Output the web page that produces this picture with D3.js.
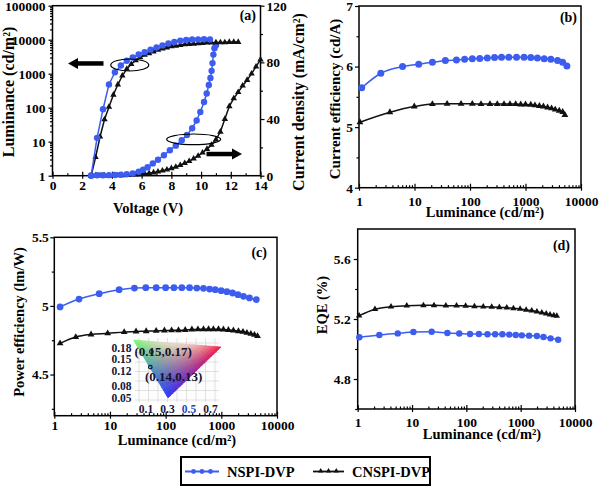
<!DOCTYPE html>
<html><head><meta charset="utf-8">
<script src="https://cdn.jsdelivr.net/npm/d3@7"></script>
<style>
body{margin:0;background:#fff}
svg{display:block}
text{font-family:"Liberation Serif","Times New Roman",serif;font-weight:bold;}
</style>
</head><body>
<svg id="c" width="600" height="487"></svg>
<script>
// ---------------- DATA ----------------
// (a) luminance & current density vs voltage
const aBlueLumV = [2.6, 3.0, 3.4, 3.8, 4.2, 4.6, 5.0, 5.4, 5.8, 6.2, 6.6, 7.0, 7.4, 7.8, 8.2, 8.6, 9.0, 9.4, 9.8, 10.2, 10.6];
const aBlueLum  = [1, 13, 90, 480, 1100, 1750, 2400, 3000, 3700, 4300, 5100, 5900, 6800, 7700, 8600, 9300, 9800, 10100, 10200, 10300, 10200];
const aBlackLumV = [2.6, 2.9, 3.2, 3.5, 3.8, 4.1, 4.4, 4.7, 5.0, 5.3, 5.6, 5.9, 6.2, 6.5, 6.8, 7.1, 7.4, 7.7, 8.0, 8.3, 8.6, 8.9, 9.2, 9.5, 9.8, 10.1, 10.4, 10.7, 11.0, 11.3, 11.6, 11.9, 12.2, 12.5];
const aBlackLum  = [1, 3.5, 14, 45, 105, 240, 480, 870, 1380, 1900, 2450, 3020, 3550, 3980, 4470, 5010, 5500, 5890, 6310, 6610, 6920, 7240, 7410, 7590, 7760, 7940, 8130, 8130, 8320, 8320, 8320, 8510, 8510, 8510];
const aBlueJV = [2.6, 3.0, 3.4, 3.8, 4.2, 4.6, 5.0, 5.4, 5.8, 6.1, 6.4, 6.75, 7.1, 7.5, 7.9, 8.3, 8.7, 9.05, 9.4, 9.7, 9.95, 10.2, 10.38, 10.52, 10.63, 10.71, 10.77, 10.83, 10.9, 11.0];
const aBlueJ  = [0.2, 0.3, 0.3, 0.4, 0.5, 0.7, 1.0, 1.6, 2.8, 4.2, 6.0, 8.7, 11.3, 14.4, 18, 21.2, 25, 28.7, 33.5, 39, 45, 52, 58, 64, 69, 74, 79.5, 85.5, 90, 92];
const aBlackJV = [2.6, 2.9, 3.2, 3.5, 3.8, 4.1, 4.4, 4.7, 5.0, 5.3, 5.6, 5.9, 6.2, 6.5, 6.8, 7.1, 7.4, 7.7, 8.0, 8.3, 8.6, 8.9, 9.2, 9.5, 9.8, 10.1, 10.4, 10.7, 11.0, 11.3, 11.6, 11.9, 12.2, 12.5, 12.8, 13.1, 13.4, 13.7, 14.0];
const aBlackJ  = [0, 0.1, 0.1, 0.1, 0.1, 0.2, 0.2, 0.3, 0.4, 0.5, 0.7, 1.0, 1.3, 1.7, 2.2, 2.8, 3.5, 4.3, 5.2, 6.2, 7.4, 8.8, 10.3, 12, 14, 16.3, 18.8, 21.7, 25.5, 31, 40, 49, 54.5, 59, 63.5, 67.5, 72, 77, 82];

// (b) current efficiency vs luminance
const bBlueLum = [1.12, 2.47, 6.1, 11.9, 21, 36, 57, 80, 110, 150, 205, 277, 370, 500, 690, 940, 1245, 1640, 2170, 2860, 3780, 4670, 5570];
const bBlueCE  = [5.65, 5.89, 6.0, 6.04, 6.07, 6.10, 6.11, 6.12, 6.13, 6.135, 6.14, 6.15, 6.155, 6.155, 6.155, 6.155, 6.15, 6.14, 6.13, 6.12, 6.10, 6.07, 6.01];
const bBlackLum = [1.04, 3.6, 9.9, 21, 38.7, 69, 110, 158, 229, 310, 410, 525, 665, 820, 1000, 1245, 1480, 1780, 2100, 2500, 2950, 3430, 4050, 4680, 5130];
const bBlackCE  = [5.08, 5.245, 5.34, 5.38, 5.385, 5.385, 5.385, 5.38, 5.38, 5.38, 5.38, 5.38, 5.38, 5.375, 5.375, 5.37, 5.36, 5.35, 5.34, 5.325, 5.31, 5.29, 5.27, 5.25, 5.2];

// (c) power efficiency vs luminance
const cBlueLum = [1.27, 2.78, 6.4, 14.6, 27.5, 44, 67.6, 100, 141, 195, 269, 363, 478, 615, 777, 995, 1260, 1590, 1990, 2500, 3200, 4250];
const cBluePE  = [4.993, 5.05, 5.089, 5.118, 5.13, 5.133, 5.133, 5.133, 5.133, 5.133, 5.133, 5.13, 5.128, 5.123, 5.118, 5.111, 5.104, 5.094, 5.082, 5.07, 5.058, 5.046];
const cBlackLum = [1.27, 2.43, 4.57, 9.1, 18, 29.4, 44.7, 67.6, 95, 128, 170, 225, 296, 380, 478, 590, 720, 890, 1090, 1340, 1650, 2030, 2450, 2880, 3390, 3940, 4470];
const cBlackPE  = [4.727, 4.773, 4.792, 4.80, 4.809, 4.814, 4.816, 4.818, 4.821, 4.822, 4.823, 4.825, 4.828, 4.829, 4.83, 4.83, 4.83, 4.83, 4.828, 4.825, 4.821, 4.816, 4.811, 4.804, 4.796, 4.789, 4.78];

// (d) EQE vs luminance
const dBlueLum = [1.07, 2.5, 5.46, 10.6, 23, 44.7, 74, 117, 170, 245, 339, 460, 617, 810, 1050, 1430, 1990, 2630, 3550, 4900];
const dBlueEQE = [5.078, 5.093, 5.104, 5.113, 5.115, 5.107, 5.103, 5.1, 5.1, 5.098, 5.098, 5.098, 5.096, 5.093, 5.091, 5.089, 5.087, 5.08, 5.071, 5.062];
const dBlackLum = [1.06, 2.08, 4.1, 8.0, 16.2, 25.4, 42, 66, 97, 141, 205, 293, 405, 555, 735, 975, 1260, 1600, 1990, 2450, 2950, 3470, 4070, 4620];
const dBlackEQE = [5.222, 5.265, 5.282, 5.289, 5.291, 5.291, 5.289, 5.289, 5.287, 5.284, 5.282, 5.28, 5.278, 5.276, 5.271, 5.267, 5.26, 5.256, 5.249, 5.242, 5.236, 5.229, 5.224, 5.22];

// CIE inset
const cieX = [0.15, 0.14];
const cieY = [0.17, 0.13];
const cieLabels = ["(0.15,0.17)", "(0.14,0.13)"];
const cieXTicks = [0.1, 0.3, 0.5, 0.7];
const cieYTicks = [0.05, 0.08, 0.12, 0.15, 0.18];

// ticks
const logMajor = [1, 10, 100, 1000, 10000];
const logMinor = [2,3,4,5,6,7,8,9,20,30,40,50,60,70,80,90,200,300,400,500,600,700,800,900,2000,3000,4000,5000,6000,7000,8000,9000];
const seriesNames = ["NSPI-DVP", "CNSPI-DVP"];

// ---------------- DRAWING ----------------
const FONT = '"Liberation Serif","Times New Roman",serif';
const BLUE = '#3c5df0', BLACK = '#111111';
const svg = d3.select('#c');
const zip = (a, b) => a.map((v, i) => [v, b[i]]);

function styleAxis(sel, fs) {
  sel.select('.domain').remove();
  sel.selectAll('line').attr('stroke', '#000').attr('stroke-width', 1.2);
  sel.selectAll('text').attr('font-family', FONT).attr('font-weight', 'bold').attr('font-size', fs).attr('fill', '#000');
}

function xAxis(g, x, y0, major, minor, fmt, pad) {
  styleAxis(g.append('g').attr('transform', `translate(0,${y0})`)
    .call(d3.axisBottom(x).tickValues(major).tickFormat(fmt).tickSize(3).tickPadding(pad).tickSizeOuter(0)), 13.5);
  styleAxis(g.append('g').attr('transform', `translate(0,${y0})`)
    .call(d3.axisBottom(x).tickValues(major).tickFormat('').tickSize(-4).tickSizeOuter(0)), 13.5);
  styleAxis(g.append('g').attr('transform', `translate(0,${y0})`)
    .call(d3.axisBottom(x).tickValues(minor).tickFormat('').tickSize(-2.5).tickSizeOuter(0)), 13.5);
}
function yAxisL(g, y, x0, major, minor, fmt, pad) {
  styleAxis(g.append('g').attr('transform', `translate(${x0},0)`)
    .call(d3.axisLeft(y).tickValues(major).tickFormat(fmt).tickSize(4).tickPadding(pad).tickSizeOuter(0)), 13.5);
  styleAxis(g.append('g').attr('transform', `translate(${x0},0)`)
    .call(d3.axisLeft(y).tickValues(minor).tickFormat('').tickSize(2.5).tickSizeOuter(0)), 13.5);
}
function frame(g, x, y) {
  const [x0, x1] = x.range(), [y0, y1] = y.range();
  g.append('rect').attr('x', x0).attr('y', y1).attr('width', x1 - x0).attr('height', y0 - y1)
    .attr('fill', 'none').attr('stroke', '#000').attr('stroke-width', 1.5);
}
function title(g, txt, x, y, rot, fs) {
  g.append('text').attr('transform', `translate(${x},${y}) rotate(${rot || 0})`)
    .attr('text-anchor', 'middle').attr('font-size', fs || 14.5).text(txt);
}
function series(g, x, y, data, color, kind, size, curve) {
  const line = d3.line().x(d => x(d[0])).y(d => y(d[1])).curve(curve || d3.curveMonotoneX);
  g.append('path').datum(data).attr('d', line).attr('fill', 'none').attr('stroke', color).attr('stroke-width', 1.5);
  if (kind === 'circle') {
    g.selectAll(null).data(data).enter().append('circle')
      .attr('cx', d => x(d[0])).attr('cy', d => y(d[1])).attr('r', size).attr('fill', color);
  } else {
    const sym = d3.symbol(d3.symbolTriangle, size);
    g.selectAll(null).data(data).enter().append('path')
      .attr('d', sym).attr('transform', d => `translate(${x(d[0])},${y(d[1])})`).attr('fill', color);
  }
}
const logFmt = d => String(d);

// ===== Panel (a) =====
{
  const g = svg.append('g');
  const x = d3.scaleLinear().domain([0, 14]).range([52.5, 260.5]);
  const yL = d3.scaleLog().domain([1, 100000]).range([175.7, 5.7]);
  const yR = d3.scaleLinear().domain([0, 120]).range([175.7, 5.7]);
  xAxis(g, x, 175.7, [0,2,4,6,8,10,12,14], [1,3,5,7,9,11,13], d3.format('d'), 1.5);
  const lMinor = [];
  [1,10,100,1000,10000].forEach(b => [2,3,4,5,6,7,8,9].forEach(m => lMinor.push(b*m)));
  yAxisL(g, yL, 52.5, [1,10,100,1000,10000,100000], lMinor, logFmt, 3);
  const ra = g.append('g').attr('transform', 'translate(260.5,0)')
    .call(d3.axisRight(yR).tickValues([0,40,80,120]).tickSize(4).tickPadding(2).tickSizeOuter(0));
  styleAxis(ra, 13.5);
  styleAxis(g.append('g').attr('transform', 'translate(260.5,0)')
    .call(d3.axisRight(yR).tickValues([20,60,100]).tickFormat('').tickSize(2.5).tickSizeOuter(0)), 13.5);
  frame(g, x, yL);
  series(g, x, yR, zip(aBlackJV, aBlackJ), BLACK, 'tri', 18, d3.curveLinear);
  series(g, x, yR, zip(aBlueJV, aBlueJ), BLUE, 'circle', 3.2, d3.curveLinear);
  series(g, x, yL, zip(aBlackLumV, aBlackLum), BLACK, 'tri', 18, d3.curveLinear);
  series(g, x, yL, zip(aBlueLumV, aBlueLum), BLUE, 'circle', 3.2, d3.curveLinear);
  // ellipses & arrows
  g.append('ellipse').attr('cx', x(5.2)).attr('cy', yL(1800)).attr('rx', 19).attr('ry', 6)
    .attr('fill', 'none').attr('stroke', '#000').attr('stroke-width', 1.2);
  g.append('ellipse').attr('cx', x(9.5)).attr('cy', yR(25.7)).attr('rx', 27).attr('ry', 5.3)
    .attr('fill', 'none').attr('stroke', '#000').attr('stroke-width', 1.2);
  const arrow = (x1, x2, yy) => {
    const dir = Math.sign(x2 - x1), hl = 10;
    g.append('line').attr('x1', x1).attr('x2', x2 - dir * hl).attr('y1', yy).attr('y2', yy)
      .attr('stroke', '#000').attr('stroke-width', 4.5);
    g.append('path').attr('d', `M${x2},${yy} L${x2 - dir*hl},${yy-5.5} L${x2 - dir*hl},${yy+5.5} Z`).attr('fill', '#000');
  };
  arrow(103.5, 68, yL(2000));
  arrow(206.5, 242, yR(15.3));
  g.append('text').attr('x', 256).attr('y', 20).attr('text-anchor', 'end').attr('font-size', 14).text('(a)');
  title(g, 'Voltage (V)', 148, 213, 0);
  title(g, 'Luminance (cd/m²)', 14, 92, -90, 16);
  title(g, 'Current density (mA/cm²)', 303.5, 102, -90, 16);
}

// ===== Panel (b) =====
{
  const g = svg.append('g');
  const x = d3.scaleLog().domain([1, 10000]).range([359, 581]);
  const y = d3.scaleLinear().domain([4, 7]).range([187.7, 6]);
  xAxis(g, x, 187.7, logMajor, logMinor, logFmt, 5.5);
  yAxisL(g, y, 359, [4,5,6,7], [4.5,5.5,6.5], d3.format('d'), 2);
  frame(g, x, y);
  series(g, x, y, zip(bBlackLum, bBlackCE), BLACK, 'tri', 20);
  series(g, x, y, zip(bBlueLum, bBlueCE), BLUE, 'circle', 3.5);
  g.append('text').attr('x', 577).attr('y', 22).attr('text-anchor', 'end').attr('font-size', 14).text('(b)');
  title(g, 'Luminance (cd/m²)', 485, 217, 0);
  title(g, 'Current efficiency (cd/A)', 340, 99, -90, 15);
}

// ===== Panel (c) =====
{
  const g = svg.append('g');
  const x = d3.scaleLog().domain([1, 10000]).range([54.3, 277]);
  const y = d3.scaleLinear().domain([4.2, 5.5]).range([415.7, 237.3]);
  xAxis(g, x, 415.7, logMajor, logMinor, logFmt, 1.5);
  yAxisL(g, y, 54.3, [4.5, 5, 5.5], [4.25, 4.75, 5.25], d => String(d), 1.5);
  frame(g, x, y);
  series(g, x, y, zip(cBlackLum, cBlackPE), BLACK, 'tri', 20);
  series(g, x, y, zip(cBlueLum, cBluePE), BLUE, 'circle', 3.4);
  g.append('text').attr('x', 267).attr('y', 257).attr('text-anchor', 'end').attr('font-size', 14).text('(c)');
  title(g, 'Luminance (cd/m²)', 177, 445, 0);
  title(g, 'Power efficiency (lm/W)', 24, 322, -90);

  // ---- CIE inset ----
  const ig = g.append('g');
  const ix = d3.scaleLinear().domain([0.1, 0.7]).range([146, 210.5]);
  const iy = d3.scaleLinear().domain([0.05, 0.18]).range([397.7, 348]);
  const gx0 = 135, gx1 = 219, gy0 = 338, gy1 = 402;
  ig.append('rect').attr('x', gx0).attr('y', gy0).attr('width', gx1 - gx0).attr('height', gy1 - gy0).attr('fill', '#fdfdfd');
  for (let xx = gx0 + 4; xx < gx1; xx += 9.5)
    ig.append('line').attr('x1', xx).attr('x2', xx).attr('y1', gy0).attr('y2', gy1).attr('stroke', '#d4d4d4').attr('stroke-width', 0.7);
  for (let yy = gy0 + 5; yy < gy1; yy += 9.5)
    ig.append('line').attr('x1', gx0).attr('x2', gx1).attr('y1', yy).attr('y2', yy).attr('stroke', '#d4d4d4').attr('stroke-width', 0.7);
  // colored gamut triangle
  const VG = [133.5, 340], VR = [221, 347], VB = [168, 398];
  const CG = [110, 255, 110], CR = [255, 10, 60], CB = [40, 50, 255];
  const N = 22;
  const pt = (i, j) => { const a = i / N, b = j / N, c = 1 - a - b;
    return [a*VG[0] + b*VR[0] + c*VB[0], a*VG[1] + b*VR[1] + c*VB[1]]; };
  const col = (a, b) => { const c = 1 - a - b;
    let r = a*CG[0] + b*CR[0] + c*CB[0], gg = a*CG[1] + b*CR[1] + c*CB[1], bl = a*CG[2] + b*CR[2] + c*CB[2];
    const w = Math.min(1, 3.2 * a * b) * (1 - c) * 0.85;
    r = r + (255 - r) * w; gg = gg + (255 - gg) * w; bl = bl + (255 - bl) * w;
    return d3.rgb(r, gg, bl).formatHex(); };
  const tris = [];
  for (let i = 0; i < N; i++) for (let j = 0; j < N - i; j++) {
    tris.push({p: [pt(i, j), pt(i + 1, j), pt(i, j + 1)], c: col((i + 1/3) / N, (j + 1/3) / N)});
    if (j < N - i - 1) tris.push({p: [pt(i + 1, j), pt(i + 1, j + 1), pt(i, j + 1)], c: col((i + 2/3) / N, (j + 2/3) / N)});
  }
  ig.selectAll(null).data(tris).enter().append('path')
    .attr('d', d => 'M' + d.p.map(q => q.join(',')).join('L') + 'Z')
    .attr('fill', d => d.c).attr('stroke', d => d.c).attr('stroke-width', 0.6);
  ig.selectAll(null).data(cieYTicks).enter().append('text')
    .attr('x', 131.5).attr('y', d => iy(d) + 4).attr('text-anchor', 'end').attr('font-size', 11.5)
    .attr('fill', '#15153a').text(d => d.toFixed(2));
  ig.selectAll(null).data(cieXTicks).enter().append('text')
    .attr('x', d => ix(d)).attr('y', 412.5).attr('text-anchor', 'middle').attr('font-size', 11.5)
    .attr('fill', (d, i) => i === 2 ? '#2a3fc0' : '#15153a').text(d => String(d));
  ig.selectAll(null).data(cieX).enter().append('circle')
    .attr('cx', (d, i) => ix(d)).attr('cy', (d, i) => iy(cieY[i])).attr('r', 1.8)
    .attr('fill', 'none').attr('stroke', '#14143c').attr('stroke-width', 1.2);
  ig.append('text').attr('x', 134.5).attr('y', 356).attr('font-size', 13).attr('font-weight', 'normal')
    .attr('fill', '#14142e').text(cieLabels[0]);
  ig.append('text').attr('x', 145).attr('y', 381).attr('font-size', 13).attr('font-weight', 'normal')
    .attr('fill', '#14142e').text(cieLabels[1]);
}

// ===== Panel (d) =====
{
  const g = svg.append('g');
  const x = d3.scaleLog().domain([1, 10000]).range([357.7, 575]);
  const y = d3.scaleLinear().domain([4.6, 5.8]).range([409, 229]);
  xAxis(g, x, 409, logMajor, logMinor, logFmt, 5);
  yAxisL(g, y, 357.7, [4.8, 5.2, 5.6], [4.6, 5.0, 5.4], d => d.toFixed(1), 3);
  frame(g, x, y);
  series(g, x, y, zip(dBlackLum, dBlackEQE), BLACK, 'tri', 18);
  series(g, x, y, zip(dBlueLum, dBlueEQE), BLUE, 'circle', 3.2);
  g.append('text').attr('x', 570).attr('y', 250).attr('text-anchor', 'end').attr('font-size', 14).text('(d)');
  title(g, 'Luminance (cd/m²)', 482, 439, 0);
  title(g, 'EQE (%)', 327, 305, -90);
}

// ===== Legend =====
{
  const g = svg.append('g');
  g.append('rect').attr('x', 181).attr('y', 457).attr('width', 249).attr('height', 28)
    .attr('fill', '#fff').attr('stroke', '#000').attr('stroke-width', 2);
  const items = [
    {name: seriesNames[0], color: BLUE, kind: 'circle', x0: 185, x1: 219, tx: 227},
    {name: seriesNames[1], color: BLACK, kind: 'tri', x0: 313, x1: 344, tx: 352}
  ];
  items.forEach(it => {
    g.append('line').attr('x1', it.x0).attr('x2', it.x1).attr('y1', 471.5).attr('y2', 471.5)
      .attr('stroke', it.color).attr('stroke-width', 1.8);
    const step = (it.x1 - it.x0) / 4;
    [1, 2, 3].forEach(k => {
      const cx = it.x0 + step * k;
      if (it.kind === 'circle') g.append('circle').attr('cx', cx).attr('cy', 471.5).attr('r', 2.4).attr('fill', it.color);
      else g.append('path').attr('d', d3.symbol(d3.symbolTriangle, 12)).attr('transform', `translate(${cx},471)`).attr('fill', it.color);
    });
    g.append('text').attr('x', it.tx).attr('y', 477).attr('font-size', 14.5).text(it.name);
  });
}
</script>
</body></html>
